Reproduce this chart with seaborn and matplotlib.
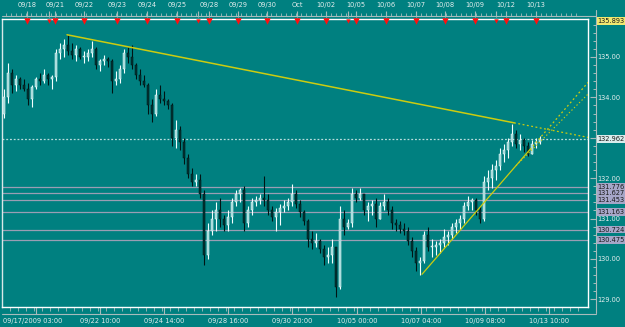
import numpy as np
import pandas as pd
import matplotlib
matplotlib.use("Agg")
import matplotlib.pyplot as plt
import seaborn as sns

# ---------------- data ----------------
highs = [
    134.2, 134.85, 134.7, 134.55, 134.5, 134.45, 134.35, 134.3, 134.5, 134.6,
    134.7, 134.6, 134.55, 135.2, 135.35, 135.45, 135.55, 135.35, 135.3, 135.25,
    135.15, 135.2, 135.4, 135.25, 134.95, 135.05, 135.0, 134.95, 134.65, 134.8,
    135.2, 135.25, 135.3, 134.85, 134.7, 134.55, 134.35, 133.95, 134.2, 134.3,
    134.15, 133.95, 133.85, 133.45, 133.3, 133.0, 132.6, 132.25, 132.1, 132.1,
    131.7, 130.9, 131.2, 131.4, 131.5, 131.1, 131.2, 131.5, 131.7, 131.75,
    131.8, 131.3, 131.5, 131.55, 131.6, 132.05, 131.6, 131.3, 131.25, 131.35,
    131.45, 131.5, 131.85, 131.7, 131.45, 131.2, 131.0, 130.7, 130.65, 130.5,
    130.35, 130.3, 130.5, 130.3, 131.3, 131.2, 131.0, 131.75, 131.7, 131.75,
    131.6, 131.4, 131.45, 131.5, 131.4, 131.6, 131.5, 131.3, 131.0, 130.95,
    130.9, 130.8, 130.55, 130.3, 130.05, 130.7, 130.8, 130.5, 130.45, 130.5,
    130.75, 130.7, 130.9, 131.0, 131.1, 131.4, 131.55, 131.5, 131.5, 131.3,
    132.05, 132.2, 132.35, 132.45, 132.75, 132.85, 133.0, 133.35, 133.2, 133.1,
    133.0, 132.9, 132.95, 133.0, 133.05]
lows = [
    133.5, 133.85, 134.1, 134.15, 134.2, 134.15, 133.8, 133.75, 134.2, 134.3,
    134.35, 134.3, 134.2, 134.4, 134.95, 135.0, 135.05, 134.95, 134.9, 134.95,
    134.85, 134.9, 135.0, 134.7, 134.65, 134.8, 134.75, 134.1, 134.3, 134.35,
    134.6, 134.85, 134.7, 134.45, 134.3, 134.25, 133.6, 133.4, 133.55, 133.85,
    133.8, 133.7, 132.8, 132.75, 132.7, 132.35, 132.0, 131.8, 131.8, 131.5,
    129.85, 130.0, 130.6, 130.7, 130.8, 130.7, 130.7, 130.9, 131.3, 131.4,
    130.7, 130.8, 131.1, 131.3, 131.35, 131.3, 131.1, 130.95, 130.7, 130.85,
    131.15, 131.2, 131.3, 131.25, 131.05, 130.85, 130.3, 130.25, 130.3, 130.15,
    129.85, 129.9, 129.9, 129.05, 129.25, 130.6, 130.75, 130.8, 131.4, 131.45,
    131.1, 130.95, 131.1, 130.8, 131.0, 131.2, 131.1, 130.75, 130.7, 130.65,
    130.6, 130.35, 130.05, 129.7, 129.6, 129.9, 130.2, 130.05, 130.1, 130.15,
    130.3, 130.35, 130.5, 130.65, 130.75, 130.9, 131.2, 131.2, 131.1, 130.9,
    130.95, 131.7, 131.75, 131.95, 132.2, 132.4, 132.5, 132.8, 132.75, 132.7,
    132.65, 132.55, 132.6, 132.75, 132.85]
closes = [
    134.0, 134.6, 134.3, 134.45, 134.3, 134.2, 133.95, 134.25, 134.45, 134.4,
    134.55, 134.45, 134.5, 135.1, 135.2, 135.3, 135.15, 135.05, 135.2, 135.0,
    135.0, 135.1, 135.2, 134.8, 134.9, 134.95, 134.9, 134.4, 134.45, 134.7,
    135.1, 135.0, 134.8, 134.55, 134.4, 134.3, 133.8, 133.6, 134.05, 133.95,
    133.9, 133.8, 133.0, 133.2, 132.9, 132.5, 132.1, 131.9, 131.95, 131.6,
    130.1, 130.7, 131.0, 131.2, 131.0, 130.85, 131.05, 131.4, 131.6, 131.7,
    130.9, 131.2, 131.4, 131.45, 131.5, 131.45, 131.2, 131.05, 131.15, 131.25,
    131.3, 131.4, 131.6, 131.35, 131.15, 130.95, 130.5, 130.4, 130.45, 130.25,
    130.05, 130.1, 130.3, 129.3, 131.0, 130.8, 130.9, 131.6, 131.5, 131.6,
    131.2, 131.3, 131.35, 131.0, 131.3, 131.4, 131.2, 130.9, 130.85, 130.75,
    130.7, 130.45, 130.2, 129.9, 129.95, 130.6, 130.3, 130.3, 130.35, 130.4,
    130.55, 130.6, 130.8, 130.9, 131.0, 131.3, 131.4, 131.45, 131.2, 131.0,
    131.9, 132.0, 132.2, 132.3, 132.6, 132.7, 132.9, 133.1, 132.85, 132.95,
    132.8, 132.6, 132.85, 132.9, 132.962]
first_open = 133.6

level_prices = [131.776, 131.627, 131.453, 131.163, 130.724, 130.475]
bid_price = 132.962
top_price = 135.893

down_trend_bar = [15.75, 127.5]
down_trend_price = [135.55, 133.37]
up_trend_bar = [104.5, 131.5]
up_trend_price = [129.62, 132.71]
up_trend2_bar = [128.0, 146.0]
up_trend2_price = [132.31, 134.08]

top_day_labels = ["09/18", "09/21", "09/22", "09/23", "09/24", "09/25", "09/28", "09/29",
                  "09/30", "Oct", "10/02", "10/05", "10/06", "10/07", "10/08", "10/09",
                  "10/12", "10/13"]
top_day_bars = [5.75, 12.75, 20, 28.25, 35.75, 43.25, 51.25, 58.5, 65.75, 73.25, 80.5,
                88, 95.5, 103, 110.25, 117.75, 125.5, 133]
week_sep_bars = [11.25, 48.5, 86, 123]

bottom_labels = ["09/22 10:00", "09/24 14:00", "09/28 16:00", "09/30 20:00",
                 "10/05 00:00", "10/07 04:00", "10/09 08:00", "10/13 10:00"]
bottom_bars = [24, 40, 56, 72, 88.25, 104.25, 120.25, 136.25]
first_bottom_label = "09/17/2009 03:00"

price_labels = [129, 130, 131, 132, 134, 135]

# ---------------- style ----------------
sns.set_style("dark")
plt.rcParams['font.family'] = ['DejaVu Sans']
TEAL = "#008080"
TXT = "#e4eeee"
FS = 4.8

W, H = 625, 327
fig = plt.figure(figsize=(W / 100, H / 100), dpi=100, facecolor=TEAL)
PL, PR, PT, PB = 2, 588, 19, 307
ax = fig.add_axes([PL / W, (H - PB) / H, (PR - PL) / W, (PB - PT) / H])
ax.set_facecolor(TEAL)

XMIN, XMAX = -0.5, 146.0
YMIN, YMAX = 128.81, 135.94
ax.set_xlim(XMIN, XMAX)
ax.set_ylim(YMIN, YMAX)

def ay(ypx):
    return (PB - ypx) / (PB - PT)

def axx(xpx):
    return (xpx - PL) / (PR - PL)

# ---------------- candles ----------------
n = len(closes)
idx = np.arange(n)
c = np.array(closes)
o = np.concatenate([[first_open], c[:-1]])
hi = np.array(highs)
lo = np.array(lows)
o = np.clip(o, lo, hi)
up = c >= o
df = pd.DataFrame({"bar": idx, "open": o, "high": hi, "low": lo, "close": c, "up": up})

for is_up, wick_col, body_col in [(True, "#f4ffff", "#98d4d4"), (False, "#001414", "#003434")]:
    d = df[df["up"] == is_up]
    ax.vlines(d["bar"], d["low"], d["high"], color=wick_col, lw=0.8, zorder=4)
    bottoms = np.minimum(d["open"], d["close"])
    heights = np.maximum(np.abs(d["close"] - d["open"]), 0.02)
    ax.bar(d["bar"], heights, bottom=bottoms, width=0.7, color=body_col,
           edgecolor=wick_col, linewidth=0.35, zorder=5)

# ---------------- levels ----------------
for lp in level_prices:
    ax.axhline(lp, color="#9a9eb4", lw=0.9, zorder=2)
ax.axhline(bid_price, color="#b8dcdc", lw=0.9, ls=(0, (1.5, 1.5)), zorder=2)

# ---------------- trend lines ----------------
def extend(bars, prices):
    slope = (prices[1] - prices[0]) / (bars[1] - bars[0])
    return [bars[1], XMAX], [prices[1], prices[1] + slope * (XMAX - bars[1])]

YEL = "#cccc10"
sns.lineplot(x=down_trend_bar, y=down_trend_price, ax=ax, color=YEL, lw=1.1, zorder=6)
ex, ey = extend(down_trend_bar, down_trend_price)
sns.lineplot(x=ex, y=ey, ax=ax, color=YEL, lw=0.9, ls=(0, (1.5, 2)), zorder=6)
sns.lineplot(x=up_trend_bar, y=up_trend_price, ax=ax, color=YEL, lw=0.9, zorder=6)
ex, ey = extend(up_trend_bar, up_trend_price)
sns.lineplot(x=ex, y=ey, ax=ax, color=YEL, lw=0.9, ls=(0, (1.5, 2)), zorder=6)
sns.lineplot(x=up_trend2_bar, y=up_trend2_price, ax=ax, color=YEL, lw=0.8, ls=(0, (1.2, 2)), zorder=6)

# ---------------- spines ----------------
for s in ["top", "right", "bottom", "left"]:
    ax.spines[s].set_visible(True)
    ax.spines[s].set_color("#ffffff")
    ax.spines[s].set_linewidth(1.0)
ax.spines["left"].set_color("#d8e8e8")
ax.grid(False)

# ---------------- right price axis ----------------
ax.yaxis.tick_right()
ax.set_yticks(price_labels)
ax.set_yticklabels([f"{p:.2f}" for p in price_labels])
ax.tick_params(axis="y", length=0, pad=7.0, labelsize=FS, labelcolor=TXT)
ax.set_xticks([])
ax.set_ylabel("")
ax.set_xlabel("")

ytr = ax.get_yaxis_transform()
GR = "#a8bcbc"
ax.plot([axx(596), axx(596)], [ay(10), ay(313)], transform=ax.transAxes, color=GR, lw=0.8, clip_on=False)
major_y = np.arange(129, 136, 1.0)
minor_y = np.arange(129, 136, 0.2)
ax.hlines(minor_y, axx(593), axx(596), transform=ytr, color=GR, lw=0.7, clip_on=False)
ax.hlines(major_y, axx(590), axx(596), transform=ytr, color=GR, lw=0.8, clip_on=False)

def price_box(p, text, fc, tc="#1a1a1a"):
    ax.text(axx(597.5), p, text, transform=ytr, ha="left", va="center", fontsize=FS,
            color=tc, clip_on=False, zorder=10,
            bbox=dict(boxstyle="square,pad=0.12", fc=fc, ec="none"))

price_box(top_price, f"{top_price:.3f}", "#f2e870")
price_box(bid_price, f"{bid_price:.3f}", "#d8ecec")
for lp in level_prices:
    price_box(lp, f"{lp:.3f}", "#a6a6c8")

# ---------------- top day ruler ----------------
xtr = ax.get_xaxis_transform()
ax.plot([0, axx(596)], [ay(16.5), ay(16.5)], transform=ax.transAxes, color=GR, lw=0.8, clip_on=False)
ax.vlines(np.arange(0.5, 144, 1.25), ay(16.5), ay(13.5), transform=xtr, color=GR, lw=0.6, clip_on=False)
ax.vlines(top_day_bars + week_sep_bars, ay(17.5), ay(11), transform=xtr, color=GR, lw=0.8, clip_on=False)
for b, t in zip(top_day_bars, top_day_labels):
    ax.text(b, ay(5.5), t, transform=xtr, ha="center", va="center", fontsize=FS, color=TXT, clip_on=False)

tri = pd.DataFrame({"bar": top_day_bars, "y": [ay(21.5)] * len(top_day_bars)})
sns.scatterplot(data=tri, x="bar", y="y", ax=ax, marker="v", s=22, color="#ff1010",
                linewidth=0, transform=xtr, clip_on=False, zorder=11, legend=False)
tri2 = pd.DataFrame({"bar": week_sep_bars, "y": [ay(21)] * len(week_sep_bars)})
sns.scatterplot(data=tri2, x="bar", y="y", ax=ax, marker="v", s=10, color="#ff1010",
                linewidth=0, transform=xtr, clip_on=False, zorder=11, legend=False)
ax.set_xlim(XMIN, XMAX)
ax.set_ylim(YMIN, YMAX)
ax.set_xlabel("")
ax.set_ylabel("")

# ---------------- bottom time ruler ----------------
ax.plot([0, axx(596)], [ay(313.5), ay(313.5)], transform=ax.transAxes, color=GR, lw=0.8, clip_on=False)
ax.vlines(np.arange(1.5, 144, 2.0), ay(307), ay(311), transform=xtr, color=GR, lw=0.6, clip_on=False)
ax.vlines([8] + bottom_bars, ay(307), ay(313.5), transform=xtr, color=GR, lw=0.8, clip_on=False)
ax.text(axx(3), ay(321.5), first_bottom_label, transform=ax.transAxes, ha="left", va="center",
        fontsize=FS, color=TXT, clip_on=False)
for b, t in zip(bottom_bars, bottom_labels):
    ax.text(b, ay(321.5), t, transform=xtr, ha="center", va="center", fontsize=FS, color=TXT, clip_on=False)

fig.savefig("out.png", dpi=100, facecolor=TEAL)
